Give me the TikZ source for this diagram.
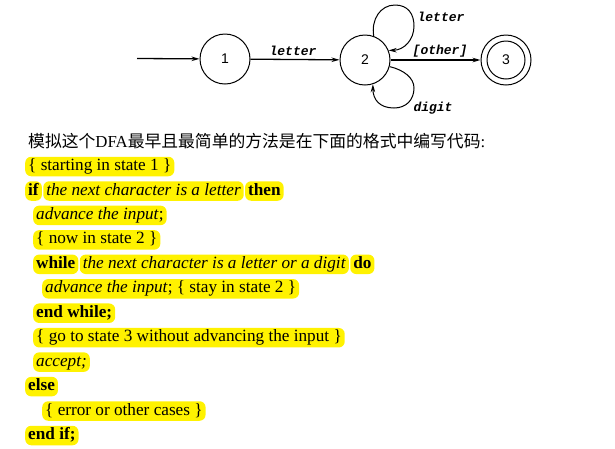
\documentclass[tikz,border=0pt]{standalone}
\usepackage{fontspec}
\setmainfont{Liberation Serif}
\newfontfamily\cjk{Noto Sans CJK SC}
\newfontfamily\lblfont{Liberation Mono}
\newfontfamily\numfont{Liberation Sans}
\usetikzlibrary{arrows.meta}
\newcommand\mycode{\fontsize{17.2}{20}\selectfont}
\begin{document}
\begin{tikzpicture}[x=1pt,y=-1pt,
  state/.style={circle,draw,line width=1pt,minimum size=50pt,inner sep=0pt,font=\numfont\fontsize{14}{14}\selectfont},
  arr/.style={line width=1.3pt,-{Stealth[length=8pt,width=4.5pt]}},
  loop/.style={line width=1pt,-{Stealth[length=8pt,width=4.5pt]}},
  lbl/.style={font=\lblfont\bfseries\itshape\fontsize{13}{13}\selectfont,inner sep=0pt},
  hl/.style={fill=yellow,rounded corners=6pt,inner xsep=3pt,inner ysep=1.5pt,text height=12.3pt,text depth=4.2pt,anchor=west,font=\mycode},
]
\useasboundingbox (0,0) rectangle (615,448);
% automaton
\node[state] (n1) at (225,59) {1};
\node[state] (n2) at (365,60) {2};
\node[state] (n3) at (506,60) {3};
\node[circle,draw,line width=1pt,minimum size=38pt,inner sep=0pt] (n3in) at (n3) {};
\coordinate (start) at (137,58.5);
\draw[arr] (start) -- (n1);
\draw[arr] (n1) -- (n2);
\draw[arr] (n2) -- (n3);
\draw[loop] (n2.70) .. controls (371,20) and (380,5) .. (395,5)
  .. controls (408,5) and (414,14) .. (414,26)
  .. controls (414,40) and (404,50) .. (n2.22);
\draw[loop] (n2.-15) .. controls (404,70) and (414,78) .. (414,88)
  .. controls (414,100) and (406,108) .. (394,108)
  .. controls (380,108) and (373,100) .. (n2.-72);
\node[lbl] (l12) at (293,51) {letter};
\node[lbl] (l23) at (440,51) {[other]};
\node[lbl] (ltop) at (441,17) {letter};
\node[lbl] (lbot) at (433,108) {digit};
% text
\node[anchor=west,inner sep=0pt,font=\fontsize{16.8}{20}\selectfont] (intro) at (28,141)
  {{\cjk 模拟这个}DFA{\cjk 最早且最简单的方法是在下面的格式中编写代码}:};
\node[hl] (c1) at (25,166.5) {\{ starting in state 1 \}};
\node[hl] (c2a) at (25,191) {\textbf{if}};
\node[hl] (c2b) at ([xshift=1pt]c2a.east) {\textit{the next character is a letter}};
\node[hl] (c2c) at ([xshift=1pt]c2b.east) {\textbf{then}};
\node[hl] (c3) at (33,215.4) {\textit{advance the input};};
\node[hl] (c4) at (33,239.9) {\{ now in state 2 \}};
\node[hl] (c5a) at (33,264.3) {\textbf{while}};
\node[hl] (c5b) at ([xshift=1pt]c5a.east) {\textit{the next character is a letter or a digit}};
\node[hl] (c5c) at ([xshift=1pt]c5b.east) {\textbf{do}};
\node[hl] (c6) at (42,288.8) {\textit{advance the input}; \{ stay in state 2 \}};
\node[hl] (c7) at (33,313.2) {\textbf{end while;}};
\node[hl] (c8) at (33,337.7) {\{ go to state 3 without advancing the input \}};
\node[hl] (c9) at (33,362.1) {\textit{accept;}};
\node[hl] (c10) at (25,386.6) {\textbf{else}};
\node[hl] (c11) at (42,411) {\{ error or other cases \}};
\node[hl] (c12) at (25,435.5) {\textbf{end if;}};
\end{tikzpicture}
\end{document}
